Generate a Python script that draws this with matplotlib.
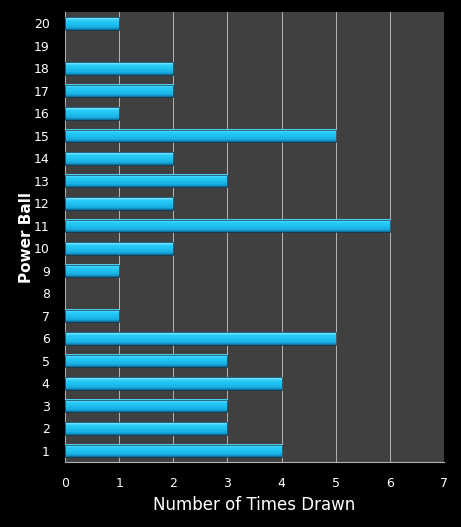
import numpy as np
import matplotlib.pyplot as plt
from matplotlib.colors import LinearSegmentedColormap

balls = list(range(1, 21))
times = [4, 3, 3, 4, 3, 5, 1, 0, 1, 2, 6, 2, 3, 2, 5, 1, 2, 2, 0, 1]

fig = plt.figure(figsize=(4.61, 5.27), dpi=100, facecolor="black")
ax = fig.add_axes([0.141, 0.123, 0.822, 0.854])
ax.set_facecolor("#404040")

# gradient for the glossy bars (bottom -> top)
cmap = LinearSegmentedColormap.from_list("bar", [
    (0.0, "#0c6890"), (0.18, "#17ade0"), (0.5, "#1fc2f1"),
    (0.78, "#2acdf9"), (0.9, "#86e6ff"), (1.0, "#2cc6ef")])
grad = np.linspace(0, 1, 64).reshape(-1, 1)

h = 0.55
for b, t in zip(balls, times):
    if t <= 0:
        continue
    ax.imshow(grad, cmap=cmap, origin="lower", aspect="auto",
              extent=[0, t, b - h / 2, b + h / 2], zorder=3,
              interpolation="bilinear")
    ax.add_patch(plt.Rectangle((0, b - h / 2), t, h, fill=False,
                               edgecolor="#0a3a55", linewidth=0.5, zorder=4))

ax.set_xlim(0, 7)
ax.set_ylim(0.5, 20.5)
ax.set_xticks(range(8))
ax.set_yticks(balls)
ax.grid(axis="x", color="#b4b4b4", linewidth=0.7, zorder=0)
ax.set_axisbelow(True)
ax.tick_params(colors="white", labelsize=9, length=0)
ax.tick_params(axis="x", pad=11)
ax.tick_params(axis="y", pad=11)
for s in ["top", "right", "left"]:
    ax.spines[s].set_visible(False)
ax.spines["bottom"].set_color("#b4b4b4")

ax.set_xlabel("Number of Times Drawn", color="white", fontsize=12, labelpad=4)
ax.set_ylabel("Power Ball", color="white", fontsize=11, fontweight="bold")
ax.yaxis.set_label_coords(-0.082, 0.5)

fig.savefig("out.png", dpi=100, facecolor="black")
